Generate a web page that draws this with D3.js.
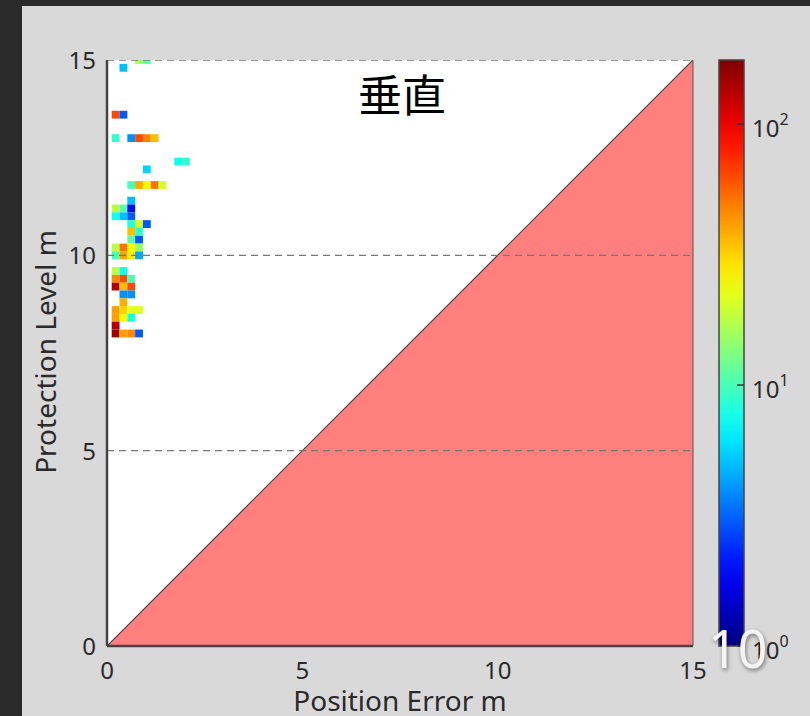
<!DOCTYPE html>
<html>
<head>
<meta charset="utf-8">
<script src="https://cdn.jsdelivr.net/npm/d3@7"></script>
<style>
  html, body { margin: 0; padding: 0; background: #2a2a2a; }
  svg { display: block; }
  text { font-family: "Noto Sans", "Liberation Sans", Arial, sans-serif; fill: #2a2a2a; }
</style>
</head>
<body>
<div id="chart"></div>
<script>
// 軸の目盛り
const xTicks = [0, 5, 10, 15];
const yTicks = [0, 5, 10, 15];
const dashLevels = [5, 10, 15];
const cbTicks = [1, 10, 100];
const countMax = 176;

// ヒストグラムのセル: [Position Error, Protection Level, 件数]
const cells = [
    [0.8, 15.0, 16], [1.0, 15.0, 11],
    [0.4, 14.8, 5],
    [0.2, 13.6, 63], [0.4, 13.6, 3],
    [0.2, 13.0, 9], [0.6, 13.0, 4], [0.8, 13.0, 63], [1.0, 13.0, 48], [1.2, 13.0, 35],
    [1.8, 12.4, 7.5], [2.0, 12.4, 9],
    [1.0, 12.2, 5.5],
    [0.6, 11.8, 10], [0.8, 11.8, 39], [1.0, 11.8, 26], [1.2, 11.8, 52], [1.4, 11.8, 20],
    [0.6, 11.4, 5],
    [0.2, 11.2, 18], [0.4, 11.2, 11], [0.6, 11.2, 2],
    [0.2, 11.0, 7.5], [0.4, 11.0, 5], [0.6, 11.0, 3],
    [0.6, 10.8, 8.5], [0.8, 10.8, 21], [1.0, 10.8, 3],
    [0.6, 10.6, 35], [0.8, 10.6, 9],
    [0.6, 10.4, 11], [0.8, 10.4, 3],
    [0.2, 10.2, 18], [0.4, 10.2, 51], [0.6, 10.2, 26], [0.8, 10.2, 15],
    [0.2, 10.0, 10], [0.4, 10.0, 40], [0.6, 10.0, 28], [0.8, 10.0, 4.5],
    [0.2, 9.6, 18], [0.4, 9.6, 7.5],
    [0.2, 9.4, 46], [0.4, 9.4, 63], [0.6, 9.4, 10],
    [0.2, 9.2, 135], [0.4, 9.2, 35], [0.6, 9.2, 63],
    [0.4, 9.0, 4], [0.6, 9.0, 4],
    [0.4, 8.8, 38],
    [0.2, 8.6, 41], [0.4, 8.6, 32], [0.6, 8.6, 22], [0.8, 8.6, 22],
    [0.2, 8.4, 41], [0.4, 8.4, 26], [0.6, 8.4, 8],
    [0.2, 8.2, 135],
    [0.2, 8.0, 150], [0.4, 8.0, 41], [0.6, 8.0, 46], [0.8, 8.0, 3]
];

// MATLAB の jet カラーマップ
function jet(t) {
    t = Math.max(0, Math.min(1, t));
    const c = v => Math.round(255 * Math.max(0, Math.min(1, v)));
    const r = 1.5 - Math.abs(4 * t - 3);
    const g = 1.5 - Math.abs(4 * t - 2);
    const b = 1.5 - Math.abs(4 * t - 1);
    return `rgb(${c(r)},${c(g)},${c(b)})`;
}

const W = 810, H = 716;
const svg = d3.select("#chart").append("svg").attr("width", W).attr("height", H);

// 背景
svg.append("rect").attr("width", W).attr("height", H).attr("fill", "#2a2a2a");
svg.append("rect").attr("x", 22).attr("y", 6).attr("width", W - 22).attr("height", H - 6).attr("fill", "#d9d9d9");

const x = d3.scaleLinear().domain([0, 15]).range([107, 693]);
const y = d3.scaleLinear().domain([0, 15]).range([646, 60]);
const logT = d3.scaleLog().domain([1, countMax]).range([0, 1]);

svg.append("clipPath").attr("id", "plotClip").append("rect")
    .attr("x", x(0)).attr("y", y(15)).attr("width", x(15) - x(0)).attr("height", y(0) - y(15));

const plot = svg.append("g").attr("clip-path", "url(#plotClip)");
plot.append("rect").attr("x", x(0)).attr("y", y(15)).attr("width", x(15) - x(0)).attr("height", y(0) - y(15)).attr("fill", "#fff");

// 危険領域 (PE > PL)
plot.append("path")
    .attr("d", d3.line().x(d => x(d[0])).y(d => y(d[1]))([[0, 0], [15, 0], [15, 15]]) + "Z")
    .attr("fill", "#ff7f7f");
plot.append("line").attr("x1", x(0)).attr("y1", y(0)).attr("x2", x(15)).attr("y2", y(15))
    .attr("stroke", "#444").attr("stroke-width", 1.2);

// セル
plot.selectAll(".cell").data(cells).enter().append("rect")
    .attr("class", "cell")
    .attr("x", d => x(d[0] - 0.08)).attr("y", d => y(d[1] + 0.1))
    .attr("width", x(0.2) - x(0)).attr("height", y(0) - y(0.2))
    .attr("fill", d => jet(logT(d[2])));

// 破線
plot.selectAll(".dash").data(dashLevels).enter().append("line")
    .attr("x1", x(0)).attr("x2", x(15)).attr("y1", d => y(d)).attr("y2", d => y(d))
    .attr("stroke", "#777").attr("stroke-width", 1.3).attr("stroke-dasharray", "7,5");

// 枠
svg.append("line").attr("x1", x(0)).attr("y1", y(15)).attr("x2", x(0)).attr("y2", y(0)).attr("stroke", "#444").attr("stroke-width", 2.5);
svg.append("line").attr("x1", x(0)).attr("y1", y(0)).attr("x2", x(15)).attr("y2", y(0)).attr("stroke", "#444").attr("stroke-width", 2.5);
svg.append("line").attr("x1", x(15)).attr("y1", y(15)).attr("x2", x(15)).attr("y2", y(0)).attr("stroke", "#555").attr("stroke-width", 1);

// 目盛りラベル
svg.selectAll(".xt").data(xTicks).enter().append("text")
    .attr("x", d => x(d)).attr("y", 679).attr("text-anchor", "middle")
    .attr("font-size", 24).text(d => d);
svg.selectAll(".yt").data(yTicks).enter().append("text")
    .attr("x", 96).attr("y", d => y(d) + 9).attr("text-anchor", "end")
    .attr("font-size", 24).text(d => d);

svg.append("text").attr("x", 400).attr("y", 711).attr("text-anchor", "middle")
    .attr("font-size", 28).text("Position Error m");
svg.append("text").attr("transform", "translate(56,352) rotate(-90)").attr("text-anchor", "middle")
    .attr("font-size", 28).text("Protection Level m");

svg.append("text").attr("x", 402).attr("y", 112).attr("text-anchor", "middle")
    .style("font-family", "'Noto Sans CJK JP', sans-serif").style("fill", "#000")
    .attr("font-size", 44).text("垂直");

// カラーバー
const cbX = 719, cbW = 25;
const cbY = d3.scaleLog().domain([1, countMax]).range([646, 60]);
const grad = svg.append("defs").append("linearGradient").attr("id", "jetGrad")
    .attr("x1", 0).attr("y1", 1).attr("x2", 0).attr("y2", 0);
d3.range(0, 1.0001, 0.05).forEach(t => {
    grad.append("stop").attr("offset", t).attr("stop-color", jet(t));
});
svg.append("rect").attr("x", cbX).attr("y", 60).attr("width", cbW).attr("height", 586)
    .attr("fill", "url(#jetGrad)").attr("stroke", "#444").attr("stroke-width", 1.5);
svg.selectAll(".cbt").data(cbTicks).enter().append("line")
    .attr("x1", cbX + cbW - 7).attr("x2", cbX + cbW).attr("y1", d => cbY(d)).attr("y2", d => cbY(d))
    .attr("stroke", "#333").attr("stroke-width", 1.5);
const cbLab = svg.selectAll(".cbl").data(cbTicks).enter().append("text")
    .attr("x", 752).attr("y", d => cbY(d) + 13).attr("font-size", 24);
cbLab.append("tspan").text("10");
cbLab.append("tspan").attr("dy", -12).attr("font-size", 16).text(d => Math.round(Math.log10(d)));

// 白い「10」の重なり
svg.append("text").attr("x", 708).attr("y", 668).attr("font-size", 52)
    .style("fill", "#f4f4f4").style("filter", "drop-shadow(1px 2px 2px rgba(0,0,0,0.45))")
    .text("10");
</script>
</body>
</html>
